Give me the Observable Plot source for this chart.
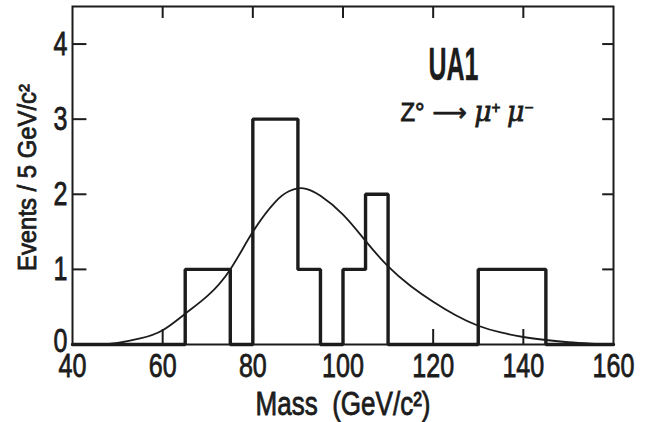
<!DOCTYPE html>
<html><head><meta charset="utf-8">
<script src="https://cdn.jsdelivr.net/npm/d3@7"></script>
<script src="https://cdn.jsdelivr.net/npm/@observablehq/plot@0.6"></script>
<style>
body{margin:0;background:#fff;}
#chart svg{display:block;}
</style>
</head><body><div id="chart"></div>
<script>
// 5 GeV/c^2 bins: lower edges and event counts
const binStart  = [40,45,50,55,60,65,70,75,80,85,90,95,100,105,110,115,120,125,130,135,140,145,150,155];
const binCounts = [ 0, 0, 0, 0, 0, 1, 1, 0, 3, 3, 1, 0,  1,  2,  0,  0,  0,  0,  1,  1,  1,  0,  0,  0];
const binEnd = 160;

// fitted curve
const fitMass   = [47, 50, 55, 60, 65, 70, 75, 80, 85, 88, 90, 92, 95, 100, 105, 110, 115, 120, 125, 130, 135, 140, 145, 150, 155, 158];
const fitEvents = [0, 0.02, 0.08, 0.19, 0.41, 0.65, 1.0, 1.5, 1.9, 2.04, 2.08, 2.07, 1.98, 1.73, 1.38, 1.04, 0.78, 0.57, 0.39, 0.25, 0.16, 0.10, 0.06, 0.03, 0.01, 0];

const xTicks = [40, 60, 80, 100, 120, 140, 160];
const yTicks = [0, 1, 2, 3, 4];
const innerXTicks = [60, 80, 100, 120, 140];
const innerYTicks = [1, 2, 3, 4];

const xTitle = "Mass  (GeV/c²)";
const yTitle = "Events / 5 GeV/c²";
const expLabel = "UA1";
const reactionLabel = "Z° ⟶ μ⁺ μ⁻";
const labelMass = [124.5, 127.5];
const labelEvents = [3.52, 2.97];

const ink = "#1c1c1c";
const font = "'Liberation Sans', Arial, sans-serif";

const steps = binStart.map((m, i) => ({mass: m, n: binCounts[i]}));
steps.push({mass: binEnd, n: 0});
const fit = fitMass.map((m, i) => ({mass: m, n: fitEvents[i]}));

const chart = Plot.plot({
  width: 650,
  height: 422,
  marginLeft: 72,
  marginRight: 37,
  marginTop: 6,
  marginBottom: 78,
  style: {fontFamily: font, fontSize: "33px", color: ink, background: "#fff"},
  x: {domain: [40, 160], ticks: xTicks, tickFormat: "d", tickSize: 0, tickPadding: 9, label: null},
  y: {domain: [0, 4.5], ticks: yTicks, tickFormat: "d", tickSize: 0, tickPadding: 5, label: null},
  marks: [
    Plot.line(fit, {x: "mass", y: "n", curve: "natural", stroke: ink, strokeWidth: 1.8}),
    Plot.line(steps, {x: "mass", y: "n", curve: "step-after", stroke: ink, strokeWidth: 3.4, strokeLinejoin: "miter"}),
    Plot.ruleX(innerXTicks, {x: d => d, y1: 0, y2: 0.2, stroke: ink, strokeWidth: 2}),
    Plot.ruleX(innerXTicks, {x: d => d, y1: 4.5, y2: 4.34, stroke: ink, strokeWidth: 2}),
    Plot.ruleY(innerYTicks, {y: d => d, x1: 40, x2: 43.2, stroke: ink, strokeWidth: 2}),
    Plot.ruleY(innerYTicks, {y: d => d, x1: 160, x2: 157.6, stroke: ink, strokeWidth: 2}),
    Plot.frame({stroke: ink, strokeWidth: 2}),
    Plot.text([yTitle], {text: d => d, frameAnchor: "left", textAnchor: "middle", lineAnchor: "middle", rotate: -90, dx: -45, dy: 2, fontSize: 25, fill: ink}),
    Plot.text([xTitle], {text: d => d, frameAnchor: "bottom", textAnchor: "middle", lineAnchor: "bottom", dy: 70, fontSize: 33, fill: ink}),
    Plot.text([expLabel], {text: d => d, x: labelMass[0], y: labelEvents[0], lineAnchor: "bottom", fontSize: 46, fontWeight: "bold", fill: ink}),
    Plot.text([reactionLabel], {text: d => d, x: labelMass[1], y: labelEvents[1], lineAnchor: "bottom", fontSize: 25, fill: ink})
  ]
});
document.getElementById("chart").appendChild(chart);

// condensed, slightly heavy lettering like the original (no condensed face installed)
const targetWidth = {};
targetWidth[xTitle] = 175;
targetWidth[yTitle] = 187;
targetWidth[expLabel] = 50;
d3.select(chart).selectAll("text").each(function() {
  const t = this.textContent;
  this.setAttribute("stroke", ink);
  this.setAttribute("stroke-width", t === expLabel ? 0.4 : 0.8);
  this.setAttribute("paint-order", "fill");
  if (t === reactionLabel) {
    const sel = d3.select(this);
    sel.text(null);
    sel.append("tspan").text("Z°");
    sel.append("tspan").text(" ⟶ ").attr("font-family", "DejaVu Sans");
    sel.append("tspan").text("μ").attr("font-style", "italic").attr("font-family", "DejaVu Serif").attr("font-size", 28);
    sel.append("tspan").text("+").attr("baseline-shift", "super").attr("font-size", 16);
    sel.append("tspan").text(" ");
    sel.append("tspan").text("μ").attr("font-style", "italic").attr("font-family", "DejaVu Serif").attr("font-size", 28);
    sel.append("tspan").text("−").attr("baseline-shift", "super").attr("font-size", 16);
    this.setAttribute("textLength", 133);
    this.setAttribute("lengthAdjust", "spacingAndGlyphs");
    return;
  }
  if (t === "0") {
    const tr = this.getAttribute("transform") || "";
    this.setAttribute("transform", "translate(0,-3) " + tr);
  }
  const w = this.getComputedTextLength();
  const target = targetWidth[t] !== undefined ? targetWidth[t] : w * 0.76;
  this.setAttribute("textLength", target);
  this.setAttribute("lengthAdjust", "spacingAndGlyphs");
});
</script>
</body></html>
